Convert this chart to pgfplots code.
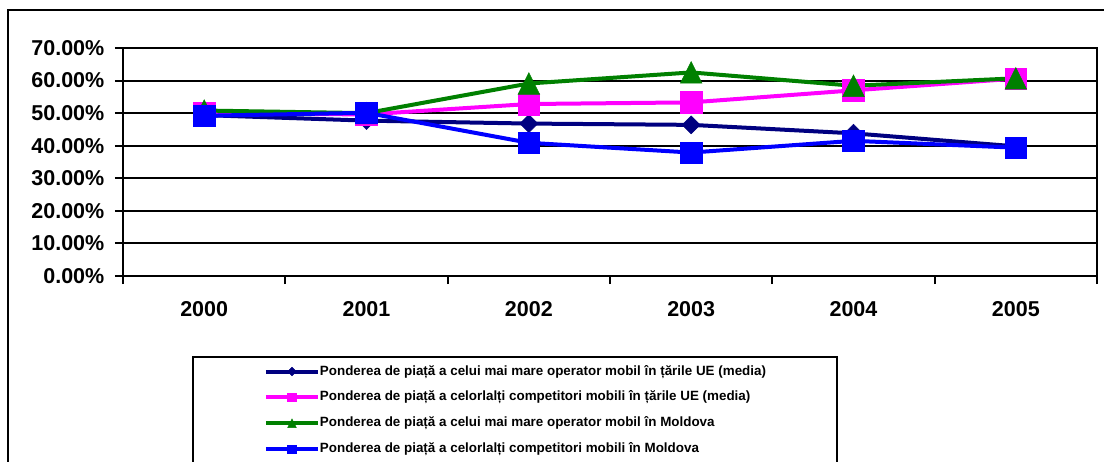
\documentclass[border=0pt]{standalone}
\usepackage{fontspec}
\setmainfont{Liberation Sans}
\usepackage{pgfplots}
\pgfplotsset{compat=1.18}
\definecolor{cnavy}{RGB}{0,0,128}
\definecolor{cmag}{RGB}{255,0,255}
\definecolor{cgreen}{RGB}{0,128,0}
\definecolor{cblue}{RGB}{0,0,255}
\pgfdeclareplotmark{xtri}{%
 \pgfpathmoveto{\pgfqpoint{0pt}{\pgfplotmarksize}}%
 \pgfpathlineto{\pgfqpoint{-\pgfplotmarksize}{-\pgfplotmarksize}}%
 \pgfpathlineto{\pgfqpoint{\pgfplotmarksize}{-\pgfplotmarksize}}%
 \pgfpathclose\pgfusepathqfillstroke}
\pgfdeclareplotmark{xdia}{%
 \pgfpathmoveto{\pgfqpoint{0pt}{\pgfplotmarksize}}%
 \pgfpathlineto{\pgfqpoint{\pgfplotmarksize}{0pt}}%
 \pgfpathlineto{\pgfqpoint{0pt}{-\pgfplotmarksize}}%
 \pgfpathlineto{\pgfqpoint{-\pgfplotmarksize}{0pt}}%
 \pgfpathclose\pgfusepathqfillstroke}
\begin{document}
\begin{tikzpicture}[x=1pt,y=1pt]
\useasboundingbox (0,0) rectangle (1104,461);
\clip (0,0) rectangle (1104,461);
\fill[white] (0,0) rectangle (1104,461);
\draw[line width=2pt] (7.5,-20) rectangle (1130,451);
\draw[line width=2pt] (193,-20) rectangle (837,104);
\begin{axis}[
 at={(123pt,185pt)}, anchor=south west, scale only axis,
 width=974pt, height=228pt,
 xmin=0, xmax=6, ymin=0, ymax=70,
 xtick={0,1,2,3,4,5,6},
 xticklabels={2000,2001,2002,2003,2004,2005},
 x tick label as interval,
 ytick={0,10,20,30,40,50,60,70},
 yticklabels={0.00\%,10.00\%,20.00\%,30.00\%,40.00\%,50.00\%,60.00\%,70.00\%},
 tick align=outside, tickpos=left, major tick length=8pt,
 tick style={black, line width=2pt},
 axis line style={line width=2pt},
 ymajorgrids, major grid style={black, line width=2pt},
 ticklabel style={font=\fontsize{21.5}{24}\selectfont\bfseries},
 yticklabel style={anchor=east, inner sep=0pt, xshift=-10.5pt},
 xticklabel style={anchor=north, inner sep=0pt, yshift=-17.7pt},
 legend style={at={(0.14476,-0.3904)}, anchor=north west, draw=none, fill=none,
   inner sep=0pt, outer sep=0pt, row sep=12.9pt, column sep=0pt,
   nodes={inner sep=0pt, text height=10pt, text depth=3pt,
   font=\fontsize{13.4}{16}\selectfont\bfseries}},
 legend cell align=left,
 legend image code/.code={\draw[mark repeat=2,mark phase=2,#1,mark size=4.3pt]
   plot coordinates {(0pt,0pt) (26pt,0pt) (52pt,0pt)};},
]
\addplot[cnavy, line width=4pt, mark=xdia, mark size=9pt,
  mark options={solid, line width=0.5pt, fill=cnavy}]
  coordinates {(0.5,49.4) (1.5,47.7) (2.5,46.8) (3.5,46.4) (4.5,43.8) (5.5,39.8)};
\addlegendentry{Ponderea de piață a celui mai mare operator mobil în țările UE (media)}
\addplot[cmag, line width=4pt, mark=square*, mark size=10.8pt,
  mark options={solid, line width=0.5pt, fill=cmag}]
  coordinates {(0.5,50.0) (1.5,49.6) (2.5,52.8) (3.5,53.3) (4.5,57.0) (5.5,60.6)};
\addlegendentry{Ponderea de piață a celorlalți competitori mobili în țările UE (media)}
\addplot[cgreen, line width=4pt, mark=xtri, mark size=10.8pt,
  mark options={solid, line width=0.5pt, fill=cgreen}]
  coordinates {(0.5,50.8) (1.5,50.0) (2.5,59.1) (3.5,62.5) (4.5,58.4) (5.5,60.7)};
\addlegendentry{Ponderea de piață a celui mai mare operator mobil în Moldova}
\addplot[cblue, line width=4pt, mark=square*, mark size=10.8pt,
  mark options={solid, line width=0.5pt, fill=cblue}]
  coordinates {(0.5,49.2) (1.5,50.1) (2.5,40.9) (3.5,37.9) (4.5,41.5) (5.5,39.4)};
\addlegendentry{Ponderea de piață a celorlalți competitori mobili în Moldova}
\end{axis}
\end{tikzpicture}
\end{document}
